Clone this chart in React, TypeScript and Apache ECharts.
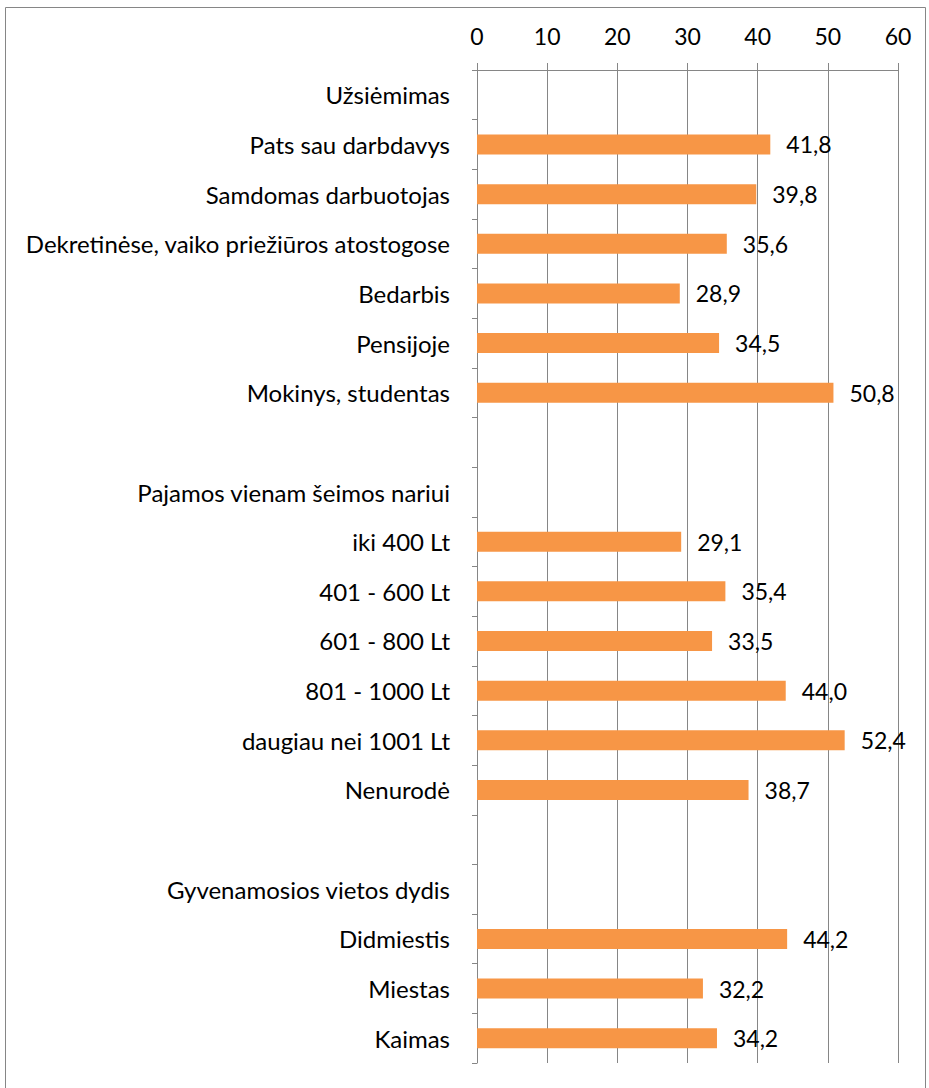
import React, { useEffect, useRef } from "react";
import * as echarts from "echarts";

const categories: string[] = [
  "Užsiėmimas",
  "Pats sau darbdavys",
  "Samdomas darbuotojas",
  "Dekretinėse, vaiko priežiūros atostogose",
  "Bedarbis",
  "Pensijoje",
  "Mokinys, studentas",
  " ",
  "Pajamos vienam šeimos nariui",
  "iki 400 Lt",
  "401 - 600 Lt",
  "601 - 800 Lt",
  "801 - 1000 Lt",
  "daugiau nei 1001 Lt",
  "Nenurodė",
  "  ",
  "Gyvenamosios vietos dydis",
  "Didmiestis",
  "Miestas",
  "Kaimas",
];

const values: (number | null)[] = [
  null, 41.8, 39.8, 35.6, 28.9, 34.5, 50.8,
  null,
  null, 29.1, 35.4, 33.5, 44.0, 52.4, 38.7,
  null,
  null, 44.2, 32.2, 34.2,
];

const xTicks = { min: 0, max: 60, interval: 10 };

const FONT = "Lato, 'Open Sans', sans-serif";
const GRAY = "#868686";

export default function App() {
  const ref = useRef<HTMLDivElement>(null);
  useEffect(() => {
    if (!ref.current) return;
    const chart = echarts.init(ref.current, undefined, { renderer: "svg" });
    chart.setOption({
      animation: false,
      backgroundColor: "#ffffff",
      graphic: [
        {
          type: "rect",
          shape: { x: 5.5, y: 7.5, width: 920, height: 1100 },
          style: { fill: "none", stroke: GRAY, lineWidth: 1 },
          silent: true,
        },
      ],
      grid: { left: 477, right: 31, top: 70, bottom: 25, containLabel: false },
      xAxis: {
        type: "value",
        position: "top",
        min: xTicks.min,
        max: xTicks.max,
        interval: xTicks.interval,
        axisLine: { show: true, lineStyle: { color: GRAY, width: 1 } },
        axisTick: { show: true, length: 7, lineStyle: { color: GRAY } },
        splitLine: { show: true, lineStyle: { color: GRAY, width: 1 } },
        axisLabel: {
          color: "#000",
          fontSize: 23,
          fontFamily: FONT,
          margin: 23,
        },
      },
      yAxis: {
        type: "category",
        inverse: true,
        data: categories,
        axisLine: { show: true, lineStyle: { color: GRAY, width: 1 } },
        axisTick: { show: true, length: 5, lineStyle: { color: GRAY } },
        splitLine: { show: false },
        axisLabel: {
          color: "#000",
          fontSize: 24,
          fontFamily: FONT,
          margin: 27,
          interval: 0,
        },
      },
      series: [
        {
          type: "bar",
          data: values,
          barWidth: 20,
          itemStyle: { color: "#F79646" },
          label: {
            show: true,
            position: "right",
            distance: 16,
            color: "#000",
            fontSize: 23,
            fontFamily: FONT,
            formatter: (p: any) =>
              p.value == null ? "" : Number(p.value).toFixed(1).replace(".", ","),
          },
        },
      ],
    });
    return () => chart.dispose();
  }, []);
  return (
    <div
      ref={ref}
      style={{ position: "absolute", left: 0, top: 0, width: 929, height: 1088 }}
    />
  );
}
